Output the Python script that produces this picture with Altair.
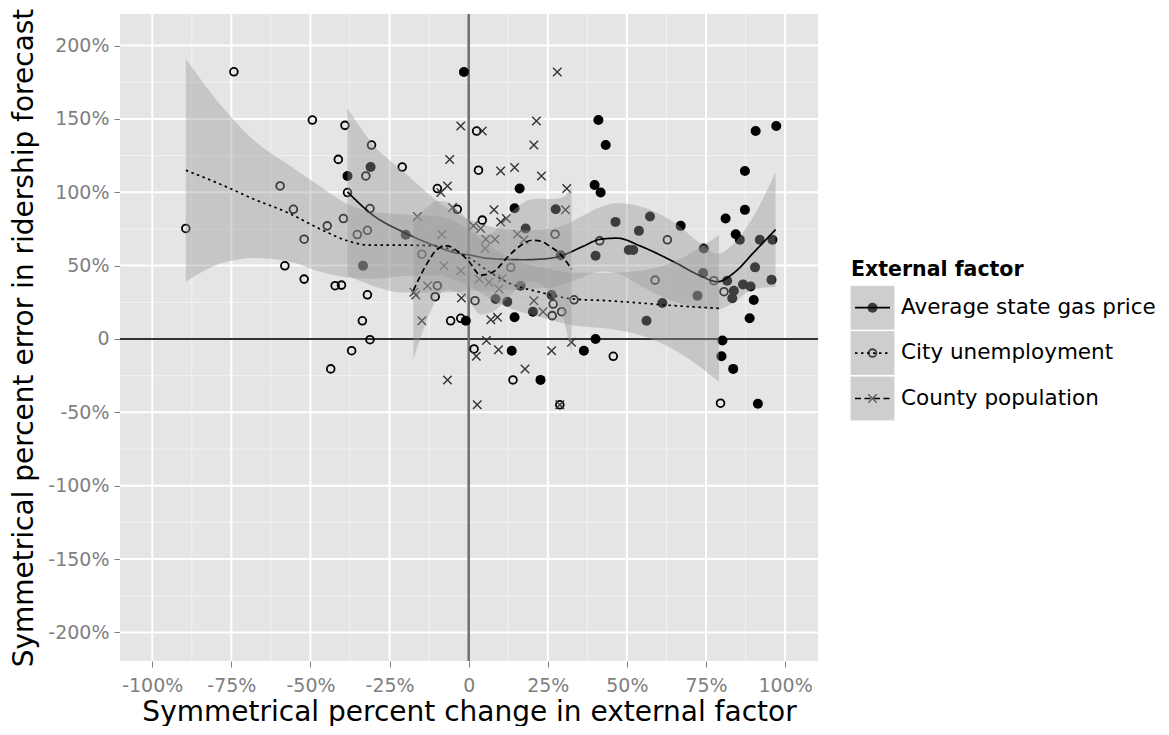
import altair as alt
import pandas as pd

FONT = "DejaVu Sans"
FACTORS = ["Average state gas price", "City unemployment", "County population"]

# ---- observations: symmetrical % change in factor (x) vs % forecast error (y)
gas_x = [-1.5, -38.3, -31.0, -19.9, -33.4, -0.9, 41.0, 43.3, 87.3, 90.7, 97.2, 16.1, 39.8, 41.7,
         14.5, 27.5, 18.0, 87.3, 81.2, 67.0, 46.4, 57.3, 53.8, 84.4, 85.7, 92.0, 96.0, 40.1, 50.6,
         52.0, 74.3, 74.1, 72.3, 90.5, 95.7, 81.7, 83.8, 83.3, 86.7, 89.1, 90.1, 88.8, 61.2, 56.2,
         80.2, 79.9, 83.6, 91.4, 40.1, 29.1, 16.4, 26.2, 8.5, 12.2, 20.3, 14.5, 13.6, 36.4, 22.7]
gas_y = [182.0, 111.1, 117.2, 71.0, 49.9, 12.4, 149.2, 132.2, 114.5, 141.7, 145.1, 102.5, 105.0, 99.8,
         89.1, 88.4, 75.3, 88.0, 82.1, 77.1, 79.8, 83.5, 73.7, 71.4, 67.6, 67.6, 67.6, 56.7, 60.7,
         60.7, 61.7, 44.9, 29.5, 48.8, 40.3, 39.7, 32.9, 27.7, 37.2, 35.8, 26.5, 14.1, 24.5, 12.4,
         -1.1, -11.8, -20.4, -44.2, 0.0, 57.1, 36.3, 29.9, 27.2, 25.4, 18.6, 14.8, -8.0, -8.0, -27.9]

unemp_x = [-74.2, -89.4, -49.4, -39.1, -30.7, -41.2, -32.5, -21.0, -59.6, -38.3, -55.4, -31.2, -39.6,
           -44.7, -32.0, -35.2, -52.0, -58.1, -52.0, -42.2, -40.2, -32.0, -33.6, -31.2, -37.0, -43.6,
           -9.9, -3.6, -14.8, -10.6, -9.9, -5.7, -2.5, 2.5, 3.1, 4.3, 27.3, 13.3, 33.3, 2.0, 26.7,
           26.4, 29.4, 1.7, 14.0, 28.8, 41.4, 58.9, 62.8, 77.5, 80.7, 45.7, 79.6]
unemp_y = [182.1, 75.3, 149.2, 145.6, 132.2, 122.4, 111.1, 117.2, 104.3, 99.8, 88.4, 88.9, 82.1,
           77.1, 74.1, 71.2, 68.0, 49.9, 40.8, 36.3, 36.7, 30.1, 12.4, -0.5, -8.0, -20.4,
           102.5, 88.4, 57.8, 28.8, 36.3, 12.4, 14.1, 141.7, 115.0, 81.0, 71.4, 48.8, 26.7, 26.1, 23.8,
           15.9, 18.6, -6.8, -27.9, -44.9, 66.9, 40.1, 67.6, 39.7, 32.2, -11.8, -43.8]

pop_x = [-2.5, -6.0, -6.7, -8.8, -5.1, -16.2, -8.5, -7.8, -2.5, -13.0, -17.3, -16.7, -2.3, -14.8, -6.7,
         28.0, 4.3, 21.4, 20.6, 10.1, 14.5, 23.0, 31.0, 30.6, 8.0, 10.1, 11.9, 1.5, 3.8, 15.4, 17.5,
         5.4, 8.3, 5.2, 3.3, 6.4, 10.6, 9.6, 20.6, 23.5, 7.0, 9.1, 5.6, 2.4, 9.4, 26.2, 32.5, 17.8,
         2.7, 28.8]
pop_y = [145.1, 122.4, 104.3, 99.8, 89.6, 83.5, 71.2, 49.9, 46.5, 36.3, 31.8, 29.9, 27.9, 12.4, -27.9,
         182.0, 141.7, 148.5, 132.2, 114.5, 116.8, 111.1, 102.5, 88.0, 88.0, 79.8, 82.1, 77.1, 75.3,
         71.4, 67.6, 68.0, 68.0, 61.7, 40.8, 38.6, 41.3, 34.0, 26.1, 18.6, 13.1, 14.8, -1.1, -11.8,
         -7.3, -8.0, -2.3, -20.4, -44.9, -44.9]

# ---- smoothed fits with confidence bands
gas_fx = [-38.3, -30.0, -20.4, -12.0, -4.6, 0.6, 6.4, 17.0, 25.4, 30.6, 36.0, 41.7, 47.0, 54.3,
          64.9, 73.3, 78.6, 83.8, 90.1, 97.0]
gas_fy = [100.2, 84.0, 72.6, 64.6, 59.0, 57.1, 54.9, 54.0, 54.9, 57.8, 63.0, 68.0, 68.7, 63.3,
          52.5, 43.0, 39.0, 45.0, 59.0, 74.6]
gas_lo = [43.2, 36.0, 31.6, 31.6, 32.0, 33.1, 32.9, 34.0, 34.9, 37.8, 42.0, 46.0, 44.7, 36.3,
          25.5, 21.0, 20.0, 25.0, 34.0, 35.6]
gas_hi = [157.2, 132.0, 113.6, 97.6, 86.0, 81.1, 76.9, 74.0, 74.9, 77.8, 84.0, 90.0, 92.7, 90.3,
          79.5, 65.0, 58.0, 65.0, 84.0, 113.6]

unemp_fx = [-89.4, -78.4, -67.8, -57.3, -46.8, -38.3, -31.0, -20.4, -9.9, -4.5, 0.0, 6.0, 12.2,
            22.7, 33.3, 43.8, 54.3, 64.9, 79.1]
unemp_fy = [115.0, 105.4, 95.2, 86.2, 74.8, 66.9, 63.9, 63.9, 63.5, 60.0, 55.5, 46.5, 38.6,
            31.8, 27.2, 26.1, 24.5, 22.7, 20.9]
unemp_lo = [39.0, 51.4, 55.2, 53.2, 45.8, 41.9, 40.9, 42.9, 43.5, 40.0, 36.5, 28.5, 21.6,
            14.8, 9.2, 7.1, 2.5, -7.3, -29.1]
unemp_hi = [191.0, 159.4, 135.2, 119.2, 103.8, 91.9, 86.9, 84.9, 83.5, 80.0, 74.5, 64.5, 55.6,
            48.8, 45.2, 45.1, 46.5, 52.7, 70.9]

pop_fx = [-17.5, -13.0, -10.0, -7.0, -3.0, 0.0, 3.8, 7.5, 12.7, 16.0, 20.1, 23.0, 25.4, 29.6, 32.5]
pop_fy = [33.0, 52.0, 61.0, 63.5, 59.0, 53.0, 43.5, 45.4, 56.7, 63.0, 67.3, 66.5, 63.5, 56.3, 47.6]
pop_lo = [-14.0, 14.0, 28.0, 33.5, 31.0, 26.0, 16.5, 18.4, 28.7, 35.0, 39.3, 37.5, 31.5, 16.3, -10.0]
pop_hi = [80.0, 90.0, 94.0, 93.5, 87.0, 80.0, 70.5, 72.4, 84.7, 91.0, 95.3, 95.5, 95.5, 96.3, 104.0]

# ---- axis breaks
X_MAJOR = [-100, -75, -50, -25, 0, 25, 50, 75, 100]
X_MINOR = [-87.5, -62.5, -37.5, -12.5, 12.5, 37.5, 62.5, 87.5]
Y_MAJOR = [-200, -150, -100, -50, 0, 50, 100, 150, 200]
Y_MINOR = [-175, -125, -75, -25, 25, 75, 125, 175]
ZERO = [0]

LABEL_EXPR = "datum.value == 0 ? '0' : datum.value + '%'"
xs = alt.Scale(domain=[-110.2, 110.4], nice=False, zero=False)
ys = alt.Scale(domain=[-219.5, 221.5], nice=False, zero=False)

x_axis = alt.Axis(values=X_MAJOR, labelExpr=LABEL_EXPR, grid=False, domain=False,
                  tickColor="#7f7f7f", tickSize=6, tickWidth=1, labelColor="#7f7f7f",
                  labelFont=FONT, labelFontSize=19, labelPadding=9, labelFlush=False,
                  labelOverlap=False, title="Symmetrical percent change in external factor",
                  titleFont=FONT, titleFontSize=28, titleFontWeight="normal",
                  titleColor="black", titlePadding=3)
y_axis = alt.Axis(values=Y_MAJOR, labelExpr=LABEL_EXPR, grid=False, domain=False,
                  tickColor="#7f7f7f", tickSize=6, tickWidth=1, labelColor="#7f7f7f",
                  labelFont=FONT, labelFontSize=19, labelPadding=5, labelFlush=False,
                  labelOverlap=False, title="Symmetrical percent error in ridership forecast",
                  titleFont=FONT, titleFontSize=28, titleFontWeight="normal",
                  titleColor="black", titlePadding=9)


def X(field):
    return alt.X(field, scale=xs, axis=x_axis)


def Y(field):
    return alt.Y(field, scale=ys, axis=y_axis)


def vrules(values, color, width):
    return alt.Chart(pd.DataFrame({"v": values})).mark_rule(
        color=color, strokeWidth=width).encode(x=X("v:Q"))


def hrules(values, color, width):
    return alt.Chart(pd.DataFrame({"v": values})).mark_rule(
        color=color, strokeWidth=width).encode(y=Y("v:Q"))


def band(fx, lo, hi):
    df = pd.DataFrame({"x": fx, "lo": lo, "hi": hi})
    return alt.Chart(df).mark_area(color="#999999", opacity=0.4, interpolate="monotone").encode(
        x=X("x:Q"), y=Y("lo:Q"), y2="hi:Q")


def fit(fx, fy, dash):
    df = pd.DataFrame({"x": fx, "y": fy})
    return alt.Chart(df).mark_line(color="black", strokeWidth=1.7, interpolate="monotone",
                                   strokeDash=dash).encode(x=X("x:Q"), y=Y("y:Q"))


def pts(px, py):
    return alt.Chart(pd.DataFrame({"x": px, "y": py}))


XSHAPE = "M-1,-1L1,1M-1,1L1,-1"
DASHES = [[1, 0], [2.5, 3.5], [6, 3.5]]
GAS_SIZE, UNEMP_SIZE, POP_SIZE = 100, 60, 72

gas_pts = pts(gas_x, gas_y).mark_circle(color="black", size=GAS_SIZE, opacity=1).encode(
    x=X("x:Q"), y=Y("y:Q"))
unemp_pts = pts(unemp_x, unemp_y).mark_point(shape="circle", filled=False, color="black",
                                             strokeWidth=1.8, size=UNEMP_SIZE, opacity=1).encode(
    x=X("x:Q"), y=Y("y:Q"))
pop_pts = pts(pop_x, pop_y).mark_point(shape=XSHAPE, filled=False, color="#333333",
                                       strokeWidth=1.4, size=POP_SIZE, opacity=1).encode(
    x=X("x:Q"), y=Y("y:Q"))

main = alt.layer(
    vrules(X_MINOR, "#f2f2f2", 1),
    hrules(Y_MINOR, "#f2f2f2", 1),
    vrules(X_MAJOR, "white", 2),
    hrules(Y_MAJOR, "white", 2),
    hrules(ZERO, "#333333", 2),
    vrules(ZERO, "#6e6e6e", 2.5),
    gas_pts, unemp_pts, pop_pts,
    band(gas_fx, gas_lo, gas_hi), fit(gas_fx, gas_fy, DASHES[0]),
    band(unemp_fx, unemp_lo, unemp_hi), fit(unemp_fx, unemp_fy, DASHES[1]),
    band(pop_fx, pop_lo, pop_hi), fit(pop_fx, pop_fy, DASHES[2]),
).properties(width=698, height=647,
             view=alt.ViewBackground(fill="#e5e5e5", strokeWidth=0))

# ---- legend panel (ggplot-style keys: point + ribbon fill + line)
leg_df = pd.DataFrame({"factor": FACTORS, "row": [0, 1, 2]})
ly = alt.Y("row:Q", scale=alt.Scale(domain=[0, 2], range=[293.7, 384.5]), axis=None)
KX = 53.5
base = alt.Chart(leg_df)

key_bg = base.mark_square(size=44 * 44, fill="#f2f2f2", stroke="white", strokeWidth=1.5,
                          opacity=1).encode(x=alt.value(KX), y=ly)
key_gas = base.transform_filter(alt.datum.row == 0).mark_circle(
    color="black", size=GAS_SIZE, opacity=1).encode(x=alt.value(KX), y=ly)
key_unemp = base.transform_filter(alt.datum.row == 1).mark_point(
    shape="circle", filled=False, color="black", strokeWidth=1.8, size=UNEMP_SIZE, opacity=1
).encode(x=alt.value(KX), y=ly)
key_pop = base.transform_filter(alt.datum.row == 2).mark_point(
    shape=XSHAPE, filled=False, color="#333333", strokeWidth=1.4, size=POP_SIZE, opacity=1
).encode(x=alt.value(KX), y=ly)
key_fill = base.mark_square(size=44 * 44, fill="#999999", opacity=0.4, strokeWidth=0).encode(
    x=alt.value(KX), y=ly)
key_line = base.mark_rule(color="black", strokeWidth=1.7).encode(
    x=alt.value(KX - 17.5), x2=alt.value(KX + 17.5), y=ly,
    strokeDash=alt.StrokeDash("factor:N", scale=alt.Scale(domain=FACTORS, range=DASHES),
                              legend=None))
key_text = base.mark_text(align="left", baseline="middle", font=FONT, fontSize=21.5,
                          color="black").encode(x=alt.value(82), y=ly, text="factor:N")
leg_title = alt.Chart(pd.DataFrame({"t": ["External factor"]})).mark_text(
    align="left", baseline="alphabetic", font=FONT, fontSize=20.5, fontWeight="bold",
    color="black").encode(x=alt.value(32), y=alt.value(261.7), text="t:N")

legend = alt.layer(key_bg, key_gas, key_unemp, key_pop, key_fill, key_line, key_text,
                   leg_title).properties(
    width=330, height=647, view=alt.ViewBackground(fill="white", strokeWidth=0))

chart = alt.hconcat(main, legend, spacing=0).properties(
    padding={"left": 2, "top": 0, "right": 0, "bottom": 0},
    background="white",
)

chart.save("out.html", embed_options={"renderer": "svg", "actions": False})
